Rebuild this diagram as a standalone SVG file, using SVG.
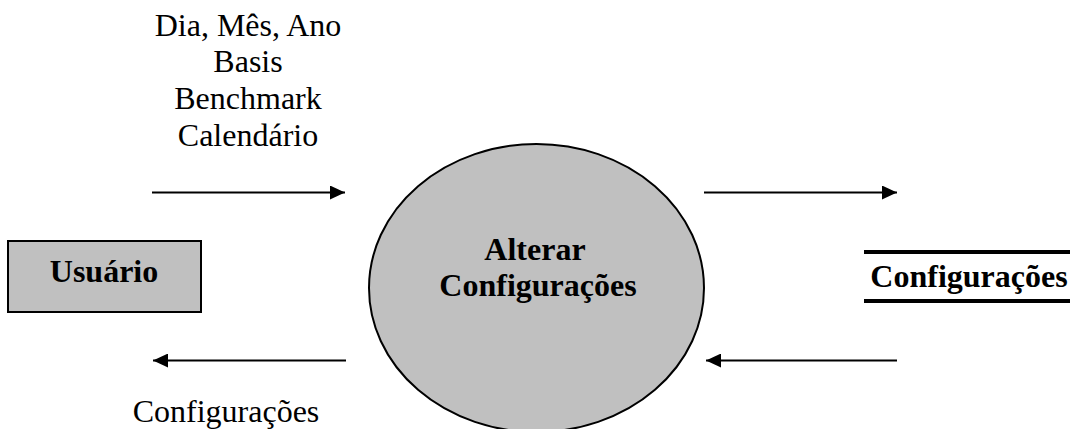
<svg xmlns="http://www.w3.org/2000/svg" width="1070" height="429" viewBox="0 0 1070 429">
<defs>
<style>
.t{font-family:"Liberation Serif","Times New Roman",serif;font-size:32px;fill:#000}
.b{font-family:"Liberation Serif","Times New Roman",serif;font-size:32px;font-weight:bold;fill:#000}
.c{stroke:#000;stroke-width:2;fill:none}
</style>
<marker id="ah" viewBox="0 0 15 14" refX="15" refY="7" markerWidth="15" markerHeight="14" markerUnits="userSpaceOnUse" orient="auto">
<path d="M0,0 L15,7 L0,14 Z" fill="#000"/>
</marker>
</defs>
<rect width="1070" height="429" fill="#fff"/>
<g id="usuario">
<rect x="8" y="241" width="193" height="71" fill="#c0c0c0" stroke="#000" stroke-width="2"/>
<text class="b" x="104" y="282" text-anchor="middle">Usuário</text>
</g>
<g id="alterar">
<ellipse cx="536.5" cy="288" rx="167.5" ry="144" fill="#c0c0c0" stroke="#000" stroke-width="2"/>
<text class="b" x="535" y="260" text-anchor="middle">Alterar</text>
<text class="b" x="538" y="296" text-anchor="middle">Configurações</text>
</g>
<g id="configuracoes">
<line x1="864" y1="252" x2="1070" y2="252" stroke="#000" stroke-width="4"/>
<line x1="864" y1="301" x2="1070" y2="301" stroke="#000" stroke-width="4"/>
<text class="b" x="969" y="287" text-anchor="middle">Configurações</text>
</g>
<g id="connectors">
<line class="c" x1="152" y1="192.5" x2="345" y2="192.5" marker-end="url(#ah)"/>
<line class="c" x1="704" y1="192.5" x2="897" y2="192.5" marker-end="url(#ah)"/>
<line class="c" x1="346" y1="360.5" x2="153" y2="360.5" marker-end="url(#ah)"/>
<line class="c" x1="897" y1="360.5" x2="706" y2="360.5" marker-end="url(#ah)"/>
</g>
<g id="labels">
<text class="t" x="248" y="36" text-anchor="middle">Dia, Mês, Ano</text>
<text class="t" x="248" y="72" text-anchor="middle">Basis</text>
<text class="t" x="248" y="109" text-anchor="middle">Benchmark</text>
<text class="t" x="248" y="146" text-anchor="middle">Calendário</text>
<text class="t" x="226" y="422" text-anchor="middle">Configurações</text>
</g>
</svg>
